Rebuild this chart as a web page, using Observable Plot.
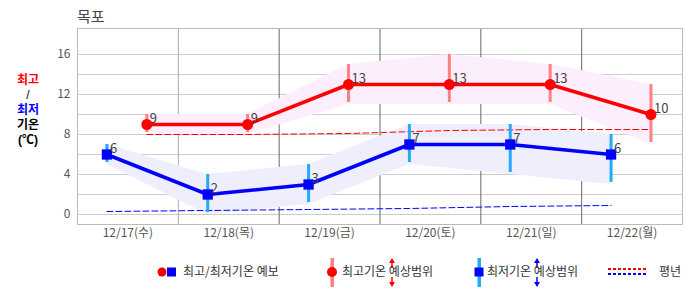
<!DOCTYPE html>
<html><head><meta charset="utf-8">
<script src="https://cdn.jsdelivr.net/npm/d3@7"></script>
<script src="https://cdn.jsdelivr.net/npm/@observablehq/plot@0.6"></script>
<style>
body{margin:0;background:#fff;font-family:"Noto Sans CJK KR","Noto Sans",sans-serif;}
#wrap{position:relative;width:686px;height:295px;overflow:hidden;}
.abs{position:absolute;white-space:nowrap;line-height:1;}
#side{position:absolute;left:14px;top:73px;width:28px;text-align:center;font-family:"Liberation Sans","Noto Sans CJK KR",sans-serif;font-size:12px;line-height:15px;font-weight:bold;color:#000;}
</style></head>
<body><div id="wrap">
<div class="abs" style="left:77px;top:8px;font-size:15px;color:#444;">목포</div>
<div id="side"><span style="color:#ff0000">최고</span><br><span style="font-weight:normal">/</span><br><span style="color:#0000ff">최저</span><br>기온<br>(℃)</div>
<div id="chart" class="abs" style="left:0;top:0;"></div>
<div id="legend" class="abs" style="left:0;top:250px;"></div>
</div>
<script>
const dayLabels = ["12/17(수)","12/18(목)","12/19(금)","12/20(토)","12/21(일)","12/22(월)"];
const dayNums = [17,18,19,20,21,22];
const lowTemps = [6,2,3,7,7,6];
const lowRangeMin = [5,0,1,5,4,3];
const lowRangeMax = [7,4,5,9,9,8];
const highTemps = [9,9,13,13,13,10];
const highRangeMin = [8,8,11,11,11,7];
const highRangeMax = [10,10,15,16,15,13];
const normalHigh = [8.0,8.0,8.1,8.4,8.5,8.5];
const normalLow = [0.3,0.4,0.5,0.6,0.8,0.9];
const yTicks = [0,4,8,12,16];
const yGrid = [0,2,4,6,8,10,12,14,16];
const lightDayLines = [18];
const darkDayLines = [19,20,21,22];

const t = (d,h,m=0) => new Date(Date.UTC(2025,11,d,h,m));
const lowRows = dayNums.map((d,i)=>({x:t(d,7),v:lowTemps[i],lo:lowRangeMin[i],hi:lowRangeMax[i],n:normalLow[i]}));
const highRows = dayNums.map((d,i)=>({x:t(d,16,30),v:highTemps[i],lo:highRangeMin[i],hi:highRangeMax[i],n:normalHigh[i]}));
const noon = dayNums.map(d=>t(d,12));

const chart = Plot.plot({
  width:686, height:250,
  marginTop:28, marginBottom:26, marginLeft:77, marginRight:4,
  style:{fontFamily:'"Noto Sans CJK KR","Noto Sans",sans-serif', background:"transparent"},
  x:{type:"utc", domain:[t(17,0),t(23,0)], label:null},
  y:{domain:[-1,18.6], label:null},
  marks:[
    Plot.ruleY(yGrid,{stroke:"#cccccc",strokeWidth:1}),
    Plot.ruleX(lightDayLines.map(d=>t(d,0)),{stroke:"#aaaaaa"}),
    Plot.ruleX(darkDayLines.map(d=>t(d,0)),{stroke:"#666666"}),
    Plot.areaY(highRows,{x:"x",y1:"lo",y2:"hi",fill:"#fdeefd",curve:"linear"}),
    Plot.areaY(lowRows,{x:"x",y1:"lo",y2:"hi",fill:"#eeeefd",curve:"linear"}),
    Plot.frame({stroke:"#bbbbbb"}),
    Plot.lineY(highRows,{x:"x",y:"n",stroke:"#ff0000",strokeWidth:1,strokeDasharray:"6,3"}),
    Plot.lineY(lowRows,{x:"x",y:"n",stroke:"#0000ff",strokeWidth:1,strokeDasharray:"6,3"}),
    Plot.ruleX(highRows,{x:"x",y1:"lo",y2:"hi",stroke:"#ff8080",strokeWidth:3,insetTop:-2}),
    Plot.ruleX(lowRows,{x:"x",y1:"lo",y2:"hi",stroke:"#22aaff",strokeWidth:3,insetTop:-2}),
    Plot.lineY(highRows,{x:"x",y:"v",stroke:"#ff0000",strokeWidth:3.5}),
    Plot.lineY(lowRows,{x:"x",y:"v",stroke:"#0000ff",strokeWidth:3.5}),
    Plot.dot(highRows,{x:"x",y:"v",r:5.5,fill:"#ff0000"}),
    Plot.dot(lowRows,{x:"x",y:"v",r:5.8,symbol:"square",fill:"#0000ff"}),
    Plot.text(highRows,{x:"x",y:"v",text:d=>String(d.v),textAnchor:"start",lineAnchor:"bottom",dx:3,dy:-2,fontSize:13,fill:"#444"}),
    Plot.text(lowRows,{x:"x",y:"v",text:d=>String(d.v),textAnchor:"start",lineAnchor:"bottom",dx:3,dy:-2,fontSize:13,fill:"#444"}),
    Plot.axisY({ticks:yTicks,tickSize:0,tickPadding:7,fontSize:12,color:"#555",label:null}),
    Plot.axisX({ticks:noon,tickSize:0,tickPadding:4,fontSize:12,color:"#555",label:null,tickFormat:(d,i)=>dayLabels[i]})
  ]
});
document.getElementById("chart").appendChild(chart);

// legend
const ns="http://www.w3.org/2000/svg";
const lg=d3.create("svg").attr("width",686).attr("height",45).attr("xmlns",ns)
  .style("font-family",'"Noto Sans CJK KR","Noto Sans",sans-serif').style("font-size","12px");
const cy=22;
function arrow(g,x,color){
  g.append("path").attr("d",`M${x},${cy-9} L${x},${cy-4} M${x},${cy+5} L${x},${cy+10}`).attr("stroke",color).attr("stroke-width",1.5);
  g.append("path").attr("d",`M${x-3},${cy-9} L${x},${cy-14} L${x+3},${cy-9} Z`).attr("fill",color);
  g.append("path").attr("d",`M${x-3},${cy+10} L${x},${cy+15} L${x+3},${cy+10} Z`).attr("fill",color);
}
lg.append("circle").attr("cx",162).attr("cy",cy).attr("r",4.5).attr("fill","#ff0000");
lg.append("rect").attr("x",167).attr("y",cy-4.5).attr("width",9).attr("height",9).attr("fill","#0000ff");
lg.append("text").attr("x",183).attr("y",cy).attr("dy","0.36em").attr("fill","#333").text("최고/최저기온 예보");
lg.append("rect").attr("x",330.5).attr("y",cy-14).attr("width",3.5).attr("height",29).attr("fill","#ff8080");
lg.append("circle").attr("cx",332).attr("cy",cy).attr("r",5).attr("fill","#ff0000");
arrow(lg,392,"#ff0000");
lg.append("text").attr("x",342).attr("y",cy).attr("dy","0.36em").attr("fill","#333").text("최고기온 예상범위");
lg.append("rect").attr("x",477.5).attr("y",cy-14).attr("width",3.5).attr("height",29).attr("fill","#22aaff");
lg.append("rect").attr("x",474.5).attr("y",cy-4.5).attr("width",9).attr("height",9).attr("fill","#0000ff");
arrow(lg,537,"#0000ff");
lg.append("text").attr("x",487).attr("y",cy).attr("dy","0.36em").attr("fill","#333").text("최저기온 예상범위");
lg.append("line").attr("x1",608).attr("x2",648).attr("y1",cy-3).attr("y2",cy-3).attr("stroke","#ff0000").attr("stroke-width",2).attr("stroke-dasharray","3,2");
lg.append("line").attr("x1",608).attr("x2",648).attr("y1",cy+2).attr("y2",cy+2).attr("stroke","#0000ff").attr("stroke-width",2).attr("stroke-dasharray","3,2");
lg.append("text").attr("x",659).attr("y",cy).attr("dy","0.36em").attr("fill","#333").text("평년");
document.getElementById("legend").appendChild(lg.node());
</script>
</body></html>
